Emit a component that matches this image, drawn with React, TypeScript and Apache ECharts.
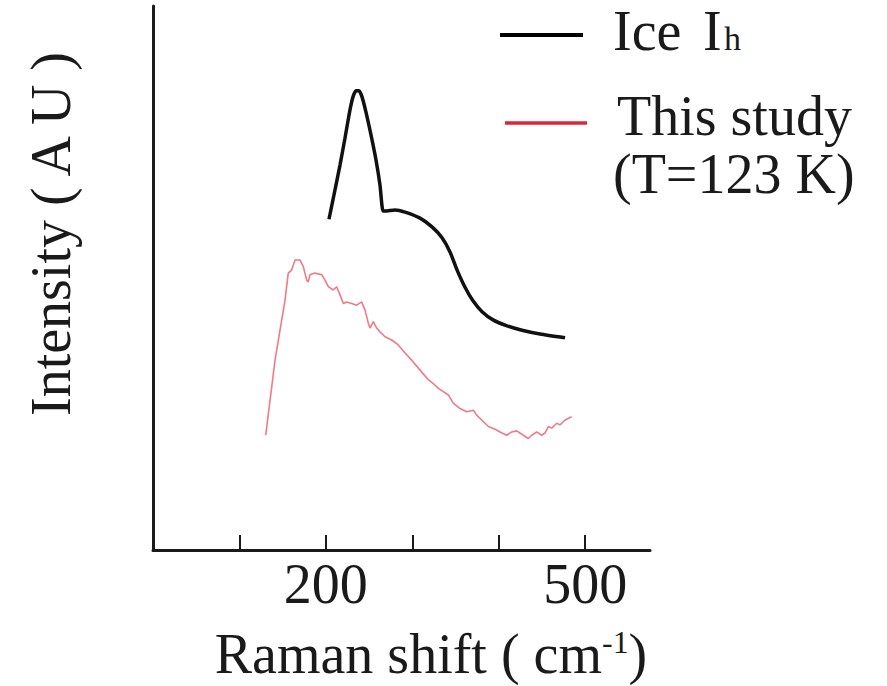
import React, { useEffect, useRef } from "react";
import * as echarts from "echarts";

// Ice Ih reference spectrum (Raman shift cm^-1, intensity a.u.)
const iceX = [203.6, 209.4, 216.4, 222.1, 227.9, 231.4, 234.9, 238.3, 241.8, 246.4, 252.2, 258.0, 262.6, 266.1, 268.4, 280.0, 291.6, 308.9, 322.8, 334.4, 343.6, 351.7, 361.0, 370.2, 380.7, 393.4, 409.6, 426.9, 447.8, 476.7];
const iceY = [60.8, 65.3, 70.8, 75.7, 80.9, 83.3, 84.4, 84.4, 83.3, 80.5, 76.3, 71.7, 67.1, 62.3, 62.3, 62.5, 62.1, 61.0, 59.4, 57.4, 54.8, 51.5, 48.3, 45.8, 43.8, 42.3, 41.2, 40.4, 39.7, 39.0];

// This study (T = 123 K)
const studyX = [130.4, 141.2, 152.7, 156.5, 160.5, 164.3, 170.1, 173.9, 177.8, 179.7, 181.6, 187.4, 195.2, 199.0, 202.8, 208.6, 212.5, 216.4, 220.2, 224.1, 229.9, 235.7, 241.5, 245.3, 249.1, 251.1, 254.9, 258.8, 262.6, 268.4, 276.2, 283.8, 291.6, 299.3, 305.1, 310.9, 318.5, 324.3, 330.1, 335.9, 341.7, 347.4, 355.2, 363.0, 370.6, 374.5, 380.3, 388.0, 395.7, 401.5, 409.2, 415.0, 420.8, 428.4, 434.2, 438.2, 443.9, 449.7, 453.5, 457.4, 461.3, 467.1, 470.9, 476.7, 484.4];
const studyY = [21.1, 34.9, 45.9, 50.9, 51.5, 53.3, 53.3, 52.1, 49.6, 49.3, 50.6, 50.9, 50.6, 49.6, 48.4, 47.8, 48.4, 46.9, 45.3, 45.6, 45.3, 45.0, 45.6, 44.1, 41.7, 40.8, 42.0, 40.8, 40.1, 39.2, 38.6, 37.7, 36.2, 34.9, 33.8, 32.7, 31.3, 30.6, 29.7, 29.1, 28.5, 27.0, 26.0, 25.4, 25.7, 24.8, 23.9, 22.7, 22.2, 21.7, 21.1, 21.7, 21.9, 21.1, 20.5, 21.1, 21.7, 21.1, 21.5, 22.7, 22.4, 23.3, 23.0, 23.9, 24.5];

const xTickValues = [100, 200, 300, 400, 500];
const xLabelValues = [200, 500];
const seriesNames = ["Ice Ih", "This study (T=123 K)"];
const legendIce = ["Ice", "I", "h"];
const legendStudy = ["This study", "(T=123 K)"];
const xAxisTitle = "Raman shift ( cm{sup|-1})";
const yAxisTitle = "Intensity ( A U )";

const FONT = '"Liberation Serif", "Times New Roman", serif';
const INK = "#1a1a1a";

export default function App() {
  const ref = useRef<HTMLDivElement>(null);

  useEffect(() => {
    if (!ref.current) return;
    const chart = echarts.init(ref.current, null, { renderer: "svg" });
    const txt = (text: string, x: number, y: number, size: number) => ({
      type: "text",
      x,
      y,
      style: {
        text,
        font: `${size}px ${FONT}`,
        fill: INK,
        align: "left",
        verticalAlign: "middle",
        textAlign: "left",
        textVerticalAlign: "middle",
      },
    });
    chart.setOption({
      animation: false,
      backgroundColor: "#ffffff",
      grid: { left: 153, right: 237, top: 6, bottom: 136, containLabel: false, outerBoundsMode: "none" },
      xAxis: {
        type: "value",
        min: 0,
        max: 575,
        interval: 100,
        splitLine: { show: false },
        axisLine: { lineStyle: { color: INK, width: 3 } },
        axisTick: { show: true, inside: true, length: 15, lineStyle: { color: INK, width: 2 }, customValues: xTickValues },
        axisLabel: {
          customValues: xLabelValues,
          formatter: (v: number) => String(v),
          fontFamily: FONT,
          fontSize: 56,
          color: INK,
          margin: 6,
        },
      },
      yAxis: {
        type: "value",
        min: 0,
        max: 100,
        splitLine: { show: false },
        axisTick: { show: false },
        axisLabel: { show: false },
        axisLine: { show: true, lineStyle: { color: INK, width: 3 } },
      },
      series: [
        {
          name: seriesNames[0],
          type: "line",
          data: iceX.map((x, i) => [x, iceY[i]]),
          showSymbol: false,
          smooth: 0.2,
          lineStyle: { color: "#111111", width: 3.5 },
        },
        {
          name: seriesNames[1],
          type: "line",
          data: studyX.map((x, i) => [x, studyY[i]]),
          showSymbol: false,
          lineStyle: { color: "#f07a86", width: 1.6 },
        },
      ],
      graphic: [
        { type: "line", shape: { x1: 500, y1: 35, x2: 583, y2: 35 }, style: { stroke: "#000", lineWidth: 4 } },
        txt(legendIce[0], 613, 31, 56),
        txt(legendIce[1], 703, 31, 56),
        txt(legendIce[2], 724, 38.5, 34),
        { type: "line", shape: { x1: 505, y1: 123, x2: 587, y2: 123 }, style: { stroke: "#d8283a", lineWidth: 3.5 } },
        txt(legendStudy[0], 617, 116, 56),
        txt(legendStudy[1], 613, 174, 56),
        {
          type: "text",
          x: 51,
          y: 234,
          rotation: Math.PI / 2,
          style: {
            text: yAxisTitle,
            font: `56px ${FONT}`,
            fill: INK,
            align: "center",
            verticalAlign: "middle",
            textAlign: "center",
            textVerticalAlign: "middle",
          },
        },
        {
          type: "text",
          x: 431,
          y: 654,
          style: {
            text: xAxisTitle,
            font: `56px ${FONT}`,
            fill: INK,
            align: "center",
            verticalAlign: "middle",
            textAlign: "center",
            textVerticalAlign: "middle",
            rich: {
              sup: { fontSize: 32, fontFamily: FONT, fill: INK, verticalAlign: "top", lineHeight: 32 },
            },
          },
        },
      ],
    });
    return () => chart.dispose();
  }, []);

  return (
    <div
      ref={ref}
      style={{ position: "fixed", left: 0, top: 0, width: 887, height: 686, background: "#fff" }}
    />
  );
}
